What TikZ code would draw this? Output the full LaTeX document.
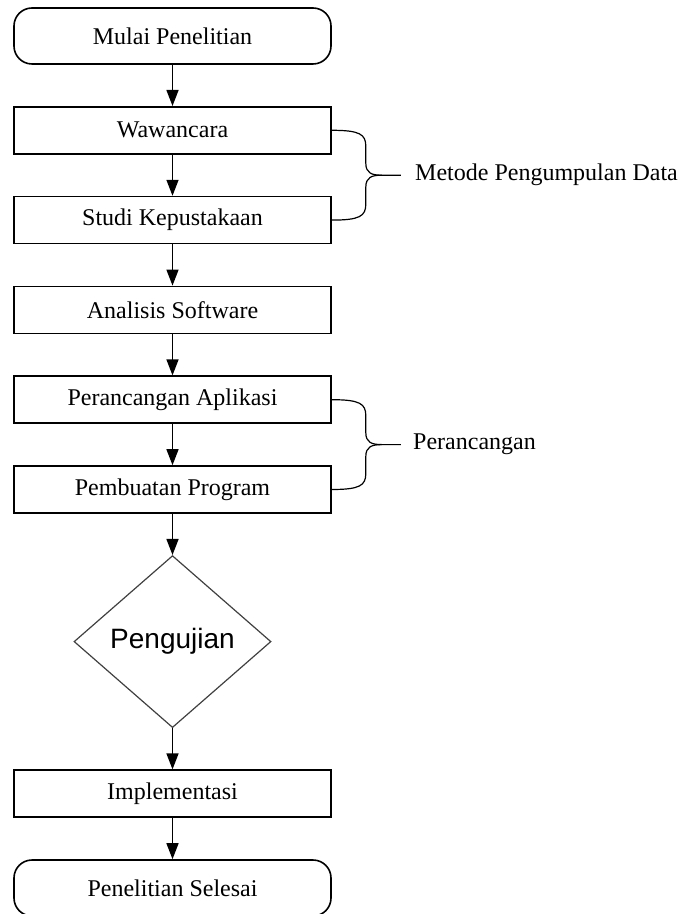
\documentclass[tikz,border=0pt]{standalone}
\usepackage{fontspec}
\setmainfont{Liberation Serif}
\newfontfamily\diafont{Liberation Sans}
\usepackage{tikz}
\usetikzlibrary{shapes.geometric,arrows.meta,positioning,calc}

\begin{document}
\begin{tikzpicture}[font=\fontsize{12}{14}\selectfont, node distance=20.6pt, box/.style={draw, line width=0.8pt, minimum width=158.5pt, minimum height=23.5pt, inner sep=0pt}, term/.style={box, rounded corners=9pt, minimum height=28pt}, dec/.style={diamond, draw=black!75, line width=0.6pt, minimum width=98.5pt, minimum height=86pt, inner sep=0pt, font=\diafont\fontsize{14}{16}\selectfont}, arr/.style={-{Triangle[length=8pt,width=6pt]}, line width=0.7pt}, brc/.style={line width=0.6pt}]
\useasboundingbox (0,0) rectangle (345pt,-457pt);
\node[term] (mulai) at (86.25pt,-18pt) {Mulai Penelitian};
\node[box, below=of mulai] (waw) {Wawancara};
\node[box, below=of waw] (stu) {Studi Kepustakaan};
\node[box, below=of stu] (anl) {Analisis Software};
\node[box, below=of anl] (apl) {Perancangan Aplikasi};
\node[box, below=of apl] (prog) {Pembuatan Program};
\node[dec, below=of prog] (uji) {Pengujian};
\node[box, below=of uji] (impl) {Implementasi};
\node[term, below=of impl] (selesai) {Penelitian Selesai};
\draw[arr] (mulai) -- (waw);
\draw[arr] (waw) -- (stu);
\draw[arr] (stu) -- (anl);
\draw[arr] (anl) -- (apl);
\draw[arr] (apl) -- (prog);
\draw[arr] (prog) -- (uji);
\draw[arr] (uji) -- (impl);
\draw[arr] (impl) -- (selesai);
% brace for data collection
\coordinate (mmid) at ($(waw.east)!0.5!(stu.east)+(17pt,0)$);
\coordinate (mtip) at ($(mmid)+(17.5pt,0)$);
\draw[brc] (waw.east) .. controls +(14pt,0) and +(0,6pt) .. ($(waw.east)+(17pt,-8pt)$) -- ($(mmid)+(0,6pt)$) .. controls +(0,-5pt) and +(-5pt,0) .. ($(mmid)+(8pt,0)$) -- (mtip);
\draw[brc] (stu.east) .. controls +(14pt,0) and +(0,-6pt) .. ($(stu.east)+(17pt,8pt)$) -- ($(mmid)+(0,-6pt)$) .. controls +(0,5pt) and +(-5pt,0) .. ($(mmid)+(8pt,0)$);
\node[right=7pt of mtip, inner sep=0pt] (mlabel) {Metode Pengumpulan Data};
% brace for design
\coordinate (pmid) at ($(apl.east)!0.5!(prog.east)+(17pt,0)$);
\coordinate (ptip) at ($(pmid)+(17.5pt,0)$);
\draw[brc] (apl.east) .. controls +(14pt,0) and +(0,6pt) .. ($(apl.east)+(17pt,-8pt)$) -- ($(pmid)+(0,6pt)$) .. controls +(0,-5pt) and +(-5pt,0) .. ($(pmid)+(8pt,0)$) -- (ptip);
\draw[brc] (prog.east) .. controls +(14pt,0) and +(0,-6pt) .. ($(prog.east)+(17pt,8pt)$) -- ($(pmid)+(0,-6pt)$) .. controls +(0,5pt) and +(-5pt,0) .. ($(pmid)+(8pt,0)$);
\node[right=6pt of ptip, inner sep=0pt] (plabel) {Perancangan};
\end{tikzpicture}
\end{document}
